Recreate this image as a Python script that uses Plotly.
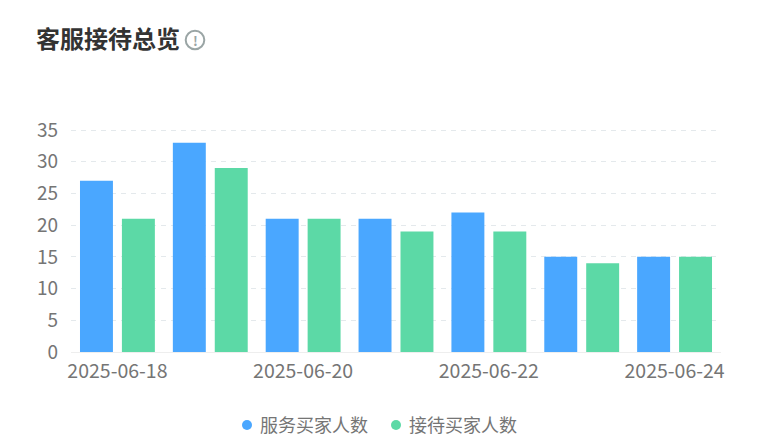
import plotly.graph_objects as go

dates = ["2025-06-18", "2025-06-19", "2025-06-20", "2025-06-21", "2025-06-22", "2025-06-23", "2025-06-24"]
served = [27, 33, 21, 21, 22, 15, 15]
received = [21, 29, 21, 19, 19, 14, 15]
tick_labels = ["2025-06-18", "2025-06-20", "2025-06-22", "2025-06-24"]
y_ticks = [0, 5, 10, 15, 20, 25, 30, 35]
names = ["服务买家人数", "接待买家人数"]
colors = ["#4aa7ff", "#5cd9a6"]
FONT = "Noto Sans CJK SC"
GREY = "#757575"
ICON = "#9aa5a5"
W, H = 761, 433
L, R, T, B = 63, 48, 120, 89
PW, PH = W - L - R, H - T - B

def px(x):
    return (x - 8 - L) / PW

def py(y):
    return (H - B - (y - 8)) / PH

def note(text, x, y, size, color, xanchor="left"):
    return dict(text=text, xref="paper", yref="paper", x=px(x), y=py(y),
                xanchor=xanchor, yanchor="middle", showarrow=False, borderpad=0,
                font=dict(family=FONT, size=size, color=color))

def dot(x, y, r, **kw):
    return dict(type="circle", xref="paper", yref="paper",
                x0=px(x - r), x1=px(x + r), y0=py(y + r), y1=py(y - r), **kw)

fig = go.Figure()
for name, vals, c in zip(names, [served, received], colors):
    fig.add_trace(go.Bar(x=dates, y=vals, name=name, marker=dict(color=c, line_width=0)))

fig.update_layout(
    width=W, height=H, autosize=False,
    margin=dict(l=L, r=R, t=T, b=B),
    paper_bgcolor="white", plot_bgcolor="white",
    font=dict(family=FONT, size=18, color=GREY),
    showlegend=False,
    barmode="group", bargap=0.097, bargroupgap=0.214,
    xaxis=dict(type="category", categoryorder="array", categoryarray=dates,
               tickmode="array", tickvals=tick_labels, ticktext=tick_labels,
               showgrid=False, showline=True, linecolor="#eeeeee", linewidth=1,
               ticks="", ticklabelstandoff=2, tickfont=dict(size=19.5, color=GREY), zeroline=False),
    yaxis=dict(range=[0, 35.315], tickmode="array", tickvals=y_ticks, ticks="",
               showgrid=True, gridcolor="#e4e9ec", griddash="5px,5px", gridwidth=1,
               zeroline=False, showline=False, ticklabelstandoff=12,
               tickfont=dict(size=19, color=GREY)),
    annotations=[
        note("<b>客服接待总览</b>", 35, 37, 24, "#333333"),
        note("<b>!</b>", 195, 40, 13, ICON, "center"),
        note(names[0], 258.5, 424, 18, GREY),
        note(names[1], 407.5, 424, 18, GREY),
    ],
    shapes=[
        dot(195, 40, 9.3, line=dict(color=ICON, width=2)),
        dot(247, 425, 5, fillcolor=colors[0], line_width=0),
        dot(396, 425, 5, fillcolor=colors[1], line_width=0),
    ],
)
fig.write_html("out.html")
